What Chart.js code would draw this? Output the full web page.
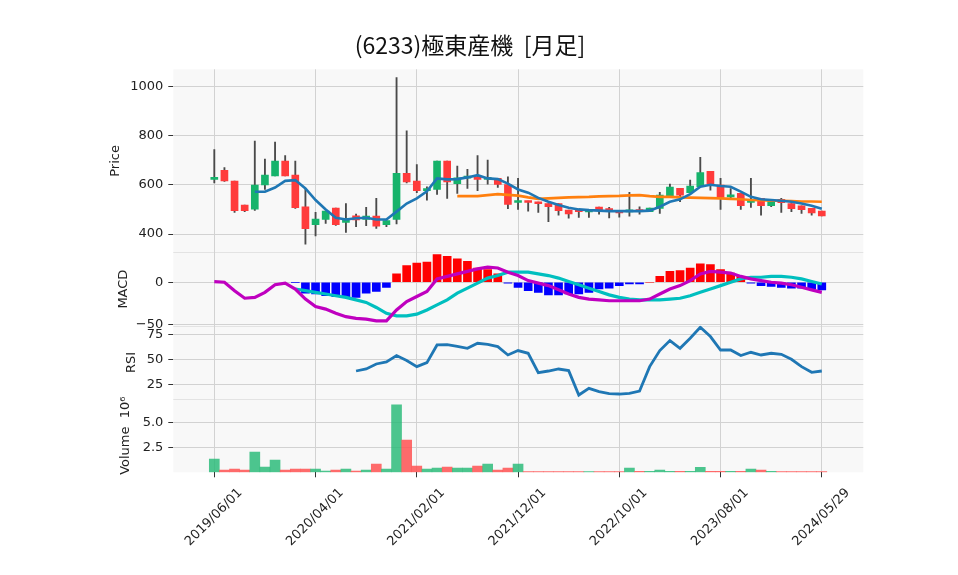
<!DOCTYPE html>
<html><head><meta charset="utf-8">
<script src="https://cdn.jsdelivr.net/npm/chart.js@4.4.1/dist/chart.umd.min.js"></script>
<style>
html,body{margin:0;padding:0;background:#fff;}
#wrap{position:relative;width:958px;height:575px;}
#title{position:absolute;left:0;top:31px;width:940px;text-align:center;white-space:pre;font:23px/26px "Noto Sans CJK JP","DejaVu Sans",sans-serif;color:#111;}
canvas{position:absolute;left:0;top:0;display:block;}
</style>
</head><body>
<div id="wrap">
<canvas id="c" width="958" height="575"></canvas>
<div id="title">(6233)極東産機  [月足]</div>
</div>
<script>
// ---------- data ----------
const dates = ["2019/06/01","2019/07/01","2019/08/01","2019/09/01","2019/10/01","2019/11/01","2019/12/01","2020/01/01","2020/02/01","2020/03/01",
"2020/04/01","2020/05/01","2020/06/01","2020/07/01","2020/08/01","2020/09/01","2020/10/01","2020/11/01","2020/12/01","2021/01/01",
"2021/02/01","2021/03/01","2021/04/01","2021/05/01","2021/06/01","2021/07/01","2021/08/01","2021/09/01","2021/10/01","2021/11/01",
"2021/12/01","2022/01/01","2022/02/01","2022/03/01","2022/04/01","2022/05/01","2022/06/01","2022/07/01","2022/08/01","2022/09/01",
"2022/10/01","2022/11/01","2022/12/01","2023/01/01","2023/02/01","2023/03/01","2023/04/01","2023/05/01","2023/06/01","2023/07/01",
"2023/08/01","2023/09/01","2023/10/01","2023/11/01","2023/12/01","2024/01/01","2024/02/01","2024/03/01","2024/04/01","2024/05/01",
"2024/05/29"];
const openP  = [622,659,615,518,501,599,636,696,639,511,438,459,505,447,474,459,473,438,459,646,615,576,581,696,605,627,632,622,626,601,528,534,530,524,524,497,495,490,509,497,490,490,495,491,504,555,586,568,592,655,599,551,565,528,545,515,541,524,515,504,493];
const highP  = [743,670,615,518,777,704,773,719,696,585,488,493,505,524,481,508,545,455,1035,819,682,592,696,696,676,663,719,700,626,632,626,534,530,524,524,497,495,495,509,508,491,569,511,505,569,603,586,619,711,655,626,585,565,626,545,541,545,524,515,504,493];
const lowP   = [608,614,488,491,496,581,636,636,504,359,392,443,435,407,430,434,423,430,441,608,568,538,561,545,565,585,576,603,589,503,500,493,488,450,477,464,468,468,481,466,469,473,481,491,484,555,531,568,592,578,500,545,500,508,477,511,488,491,484,477,474];
const closeP = [630,616,495,495,599,639,696,636,507,422,461,493,438,464,457,473,432,455,646,612,576,582,696,612,628,634,622,625,601,520,532,528,523,511,495,482,491,492,495,495,486,492,491,505,558,591,558,595,650,605,549,558,515,531,515,541,527,503,499,486,474];
const volumeM = [1.33,0.23,0.33,0.23,2.03,0.53,1.23,0.23,0.33,0.33,0.33,0.13,0.23,0.33,0.13,0.23,0.83,0.33,6.73,3.23,0.63,0.33,0.43,0.53,0.43,0.43,0.63,0.83,0.23,0.43,0.83,0.08,0.08,0.08,0.08,0.08,0.08,0.08,0.08,0.08,0.08,0.43,0.1,0.1,0.23,0.1,0.1,0.1,0.5,0.1,0.1,0.1,0.1,0.33,0.23,0.1,0.08,0.08,0.08,0.08,0.08];
const ma5 = [null,null,null,null,572,572,589,616,619,585,538,500,466,459,464,466,459,459,491,524,545,574,626,622,623,630,639,626,623,605,581,568,547,531,518,507,500,497,495,493,493,493,493,495,511,531,541,562,592,600,595,592,572,551,541,538,535,531,524,515,503];
const ma25 = [null,null,null,null,null,null,null,null,null,null,null,null,null,null,null,null,null,null,null,null,null,null,null,null,554,554,554,558,562,559,556,549,543,545,547,549,550,551,553,554,555,557,558,554,551,551,549,548,547,546,545,543,541,538,537,535,535,534,532,532,531];
const macdLine = [0.8,0,-10,-19,-18,-12,-3,-1,-8,-20,-29,-32,-37,-41,-43,-44,-46,-46,-33,-23,-17,-11,4,7,10,13,16,18,17,12,8,2,-1,-4,-9,-14,-18,-20,-21,-22,-22,-22,-22,-20,-14,-8,-4,2,10,13,12,11,7,4,2,0,-1,-3,-6,-9,-12];
const signalLine = [null,null,null,null,null,null,null,null,-8,-10,-12,-14,-16,-18,-21,-24,-30,-37,-40,-40,-38,-33,-27,-21,-13,-7,-1,5,8,12,12,12,10,8,5,1,-3,-7,-11,-15,-18,-20,-21,-21,-21,-20,-19,-16,-12,-8,-4,0,4,6,6,7,7,6,4,1,-2];
const macdHist = [null,null,null,null,null,null,null,null,-0.5,-13,-14,-16,-17,-18,-18,-13,-11,-6,10,20,23,24,33,31,28,25,17,15,10,-1,-6,-10,-12,-15,-15,-14,-14,-12,-8,-7,-4,-2,-2,0,7,13,14,17,22,21,15,11,7,-1,-4,-5,-6,-7,-7,-8,-9];
const rsi = [null,null,null,null,null,null,null,null,null,null,null,null,null,null,38.3,40.3,45.3,47.3,53.7,48.7,42.7,46.7,64.3,64.7,63,61,66,65,62.7,54.3,58.7,56,36.7,38.3,40.3,38.7,14.3,21,17.7,15.7,15.3,16,18.3,42.7,58.7,68.7,61,71,82,72.7,59.3,59.3,53.7,57,54.3,56,55,50,42.7,37,38.3];
const xTickIdx = [0,10,20,30,40,50,60];
const priceTicks = [400,600,800,1000];
const macdTicks = [-50,0];
const rsiTicks = [25,50,75];
const volTicks = [2.5,5.0];

// ---------- build ----------
const UP = '#16b36b', DOWN = '#ff3b3b', VUP = 'rgba(38,186,118,0.82)', VDOWN = 'rgba(255,82,82,0.85)';
const idx = dates.map((d, i) => i);
const isUp = idx.map(i => closeP[i] >= openP[i]);
const pts = arr => arr.map((v, i) => v == null ? null : {x: i, y: v}).filter(p => p);

const LEFT = 173.3, RIGHT = 863.3, TOP = 69.3, BOTTOM = 472.3, PADL = 105;
const FONT = {family: 'DejaVu Sans', size: 13};
const TXT = '#222';

function yAxis(opts) {
  return Object.assign({
    type: 'linear', position: 'left', stack: 'panels', offset: false,
    border: {display: false},
    grid: {color: '#d2d2d2', lineWidth: 1, tickLength: 5, tickColor: '#333', drawTicks: true},
    afterFit: s => { s.width = LEFT - PADL; },
  }, opts);
}
const fmt = v => v < 0 ? '\u2212' + Math.abs(v) : String(v);

const bgPlugin = {
  id: 'bg',
  beforeDraw(chart) {
    const {ctx, chartArea: a} = chart;
    ctx.save();
    ctx.fillStyle = '#f8f8f8';
    ctx.fillRect(a.left, a.top, a.right - a.left, a.bottom - a.top);
    ctx.strokeStyle = '#e3e3e3'; ctx.lineWidth = 1;
    ['yP', 'yM', 'yR'].forEach(id => {
      const y = Math.round(chart.scales[id].bottom) + 0.5;
      ctx.beginPath(); ctx.moveTo(a.left, y); ctx.lineTo(a.right, y); ctx.stroke();
    });
    ctx.restore();
  }
};

new Chart(document.getElementById('c'), {
  type: 'bar',
  data: {
    datasets: [
      {type: 'bar', label: 'wick', yAxisID: 'yP', order: 20, grouped: false,
       data: idx.map(i => ({x: i, y: [lowP[i], highP[i]]})),
       backgroundColor: '#4a4a4a', barThickness: 1.2},
      {type: 'bar', label: 'body', yAxisID: 'yP', order: 15, grouped: false, minBarLength: 2,
       data: idx.map(i => ({x: i, y: [openP[i], closeP[i]]})),
       backgroundColor: idx.map(i => isUp[i] ? UP : DOWN), barThickness: 7},
      {type: 'line', label: 'MA5', yAxisID: 'yP', order: 2, data: pts(ma5),
       borderColor: '#1f77b4', borderWidth: 2.6, pointRadius: 0, tension: 0},
      {type: 'line', label: 'MA25', yAxisID: 'yP', order: 3, data: pts(ma25),
       borderColor: '#ff7f0e', borderWidth: 2.6, pointRadius: 0, tension: 0},
      {type: 'bar', label: 'hist', yAxisID: 'yM', order: 15, grouped: false, data: pts(macdHist),
       backgroundColor: pts(macdHist).map(p => p.y >= 0 ? '#ff0000' : '#0000ff'), barThickness: 8},
      {type: 'line', label: 'signal', yAxisID: 'yM', order: 3, data: pts(signalLine),
       borderColor: '#00bfbf', borderWidth: 3.2, pointRadius: 0, tension: 0},
      {type: 'line', label: 'MACD', yAxisID: 'yM', order: 2, data: pts(macdLine),
       borderColor: '#bf00bf', borderWidth: 3.2, pointRadius: 0, tension: 0},
      {type: 'line', label: 'RSI', yAxisID: 'yR', order: 2, data: pts(rsi),
       borderColor: '#1f77b4', borderWidth: 2.8, pointRadius: 0, tension: 0},
      {type: 'bar', label: 'Volume', yAxisID: 'yV', order: 15, grouped: false,
       data: idx.map(i => ({x: i, y: volumeM[i]})),
       backgroundColor: idx.map(i => isUp[i] ? VUP : VDOWN), barThickness: 10},
    ]
  },
  options: {
    responsive: false, animation: false, devicePixelRatio: 1,
    layout: {padding: {left: PADL, right: 958 - RIGHT, top: TOP, bottom: 0}},
    plugins: {legend: {display: false}, tooltip: {enabled: false}, title: {display: false}},
    scales: {
      x: {
        type: 'linear', min: -4.05, max: 64.1, offset: false,
        border: {display: false},
        grid: {color: '#d2d2d2', lineWidth: 1, offset: false, tickLength: 5, tickColor: '#333', drawTicks: true},
        afterBuildTicks: s => { s.ticks = xTickIdx.map(v => ({value: v})); },
        afterFit: s => { s.height = 575 - BOTTOM; },
        ticks: {minRotation: 45, maxRotation: 45, autoSkip: false, labelOffset: 26, padding: 8,
                color: TXT, font: FONT, callback: v => dates[v] || ''}
      },
      yP: yAxis({stackWeight: 5, weight: 4, min: 325.2, max: 1068.8,
        afterBuildTicks: s => { s.ticks = priceTicks.map(v => ({value: v})); },
        ticks: {color: TXT, font: FONT, padding: 5, callback: fmt},
        title: {display: true, text: 'Price', color: TXT, font: FONT, padding: {top: 3, bottom: 0}}}),
      yM: yAxis({stackWeight: 2, weight: 3, min: -51.8, max: 35.5,
        afterBuildTicks: s => { s.ticks = macdTicks.map(v => ({value: v})); },
        ticks: {color: TXT, font: FONT, padding: 5, callback: fmt},
        title: {display: true, text: 'MACD', color: TXT, font: FONT, padding: {top: 11, bottom: 0}}}),
      yR: yAxis({stackWeight: 2, weight: 2, min: 10.3, max: 83.5,
        afterBuildTicks: s => { s.ticks = rsiTicks.map(v => ({value: v})); },
        ticks: {color: TXT, font: FONT, padding: 5, callback: fmt},
        title: {display: true, text: 'RSI', color: TXT, font: FONT, padding: {top: 19, bottom: 0}}}),
      yV: yAxis({stackWeight: 2, weight: 1, min: 0, max: 7.32,
        afterBuildTicks: s => { s.ticks = volTicks.map(v => ({value: v})); },
        ticks: {color: TXT, font: FONT, padding: 5, callback: v => v.toFixed(1)},
        title: {display: true, text: 'Volume  10\u2076', color: TXT, font: FONT, padding: {top: 13, bottom: 0}}}),
    }
  },
  plugins: [bgPlugin]
});
</script>
</body></html>
